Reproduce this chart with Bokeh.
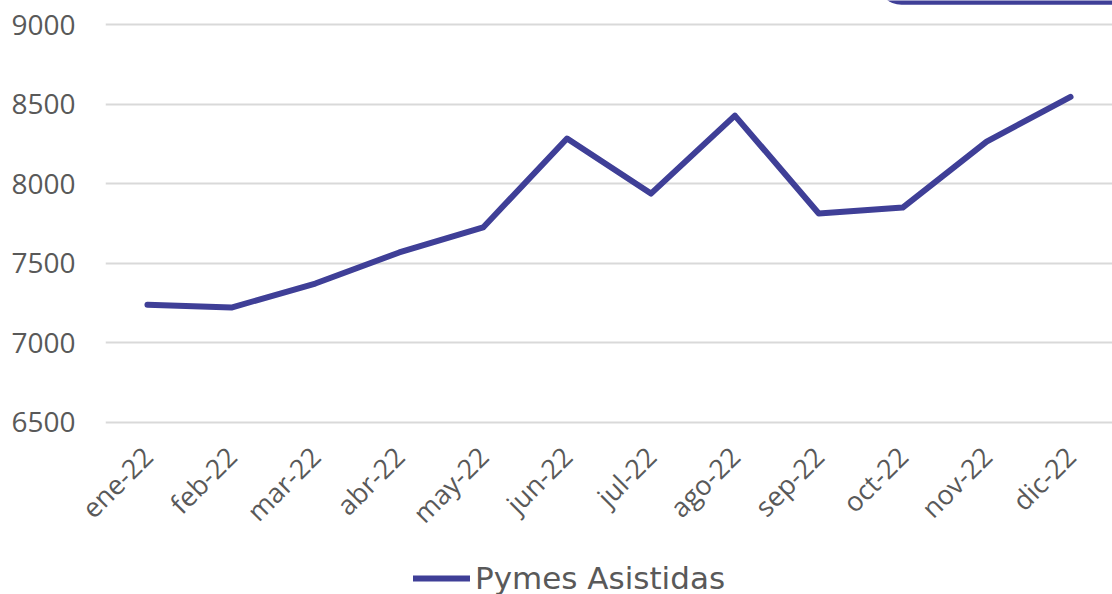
import math
from bokeh.plotting import figure
from bokeh.layouts import column
from bokeh.models import Range1d, Legend, LegendItem, BoxAnnotation
from bokeh.embed import file_html
from bokeh.resources import INLINE

months = ["ene-22", "feb-22", "mar-22", "abr-22", "may-22", "jun-22",
          "jul-22", "ago-22", "sep-22", "oct-22", "nov-22", "dic-22"]
pymes = [7240, 7222, 7373, 7568, 7725, 8284, 7938, 8428, 7813, 7850, 8265, 8545]
y_ticks = [6500, 7000, 7500, 8000, 8500, 9000]
series_name = "Pymes Asistidas"

LINE = "#3F3F97"
TXT = "#595959"

p = figure(width=1112, height=548, x_range=months, y_range=Range1d(6481, 9151),
           output_backend="svg", toolbar_location=None,
           min_border_left=105, min_border_right=0, min_border_top=0, min_border_bottom=123)
p.outline_line_color = None
p.background_fill_color = "white"
p.border_fill_color = "white"

r = p.line(months, pymes, line_color=LINE, line_width=6, line_cap="round", line_join="round")

box = BoxAnnotation(left=9.2, right=12.3, bottom=9124, top=9500, fill_color=LINE, fill_alpha=1,
                    line_color=None, border_radius=24)
p.add_layout(box)

p.xgrid.grid_line_color = None
p.ygrid.grid_line_color = "#D9D9D9"
p.ygrid.grid_line_width = 2
p.yaxis.ticker = y_ticks
p.yaxis.axis_line_color = None
p.yaxis.major_tick_line_color = None
p.yaxis.minor_tick_line_color = None
p.yaxis.major_label_text_font = "Open Sans"
p.yaxis.major_label_text_font_size = "28px"
p.yaxis.major_label_text_color = TXT
p.yaxis.major_label_standoff = 24

p.xaxis.axis_line_color = None
p.xaxis.major_tick_line_color = None
p.xaxis.minor_tick_line_color = None
p.xaxis.major_label_orientation = math.pi / 4
p.xaxis.major_label_text_font = "Open Sans"
p.xaxis.major_label_text_font_size = "27px"
p.xaxis.major_label_text_color = TXT
p.xaxis.major_label_standoff = 20

# legend strip below the chart
q = figure(width=1112, height=46, x_range=months, y_range=Range1d(0, 1),
           output_backend="svg", toolbar_location=None,
           x_axis_location=None, y_axis_location=None,
           min_border_left=0, min_border_right=0, min_border_top=0, min_border_bottom=0)
q.outline_line_color = None
q.grid.grid_line_color = None
rq = q.line(months, pymes, line_color=LINE, line_width=6, line_cap="round", visible=False)
legend = Legend(items=[LegendItem(label=series_name, renderers=[rq])], orientation="horizontal",
                location=(308, -2), border_line_color=None, background_fill_alpha=0,
                label_text_font="DejaVu Sans", label_text_font_size="31px", label_text_color=TXT,
                glyph_width=57, label_standoff=5, padding=0, margin=0)
q.add_layout(legend)

layout = column(p, q, spacing=0)
open("out.html", "w").write(file_html(layout, INLINE))
